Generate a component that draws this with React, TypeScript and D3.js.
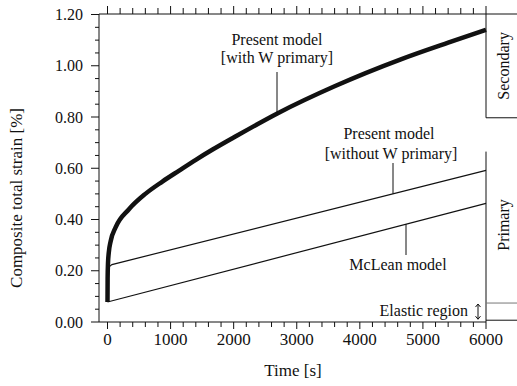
import React from "react";
import * as d3 from "d3";

const timeTicks = [0, 1000, 2000, 3000, 4000, 5000, 6000];
const strainTicks = [0, 0.2, 0.4, 0.6, 0.8, 1.0, 1.2];

const withWTime = [0, 2, 8, 20, 50, 130, 340, 600, 870, 1130, 1400, 1660, 2000, 2700, 3600, 4650, 5400, 6000];
const withWStrain = [0.078, 0.17, 0.23, 0.27, 0.315, 0.37, 0.44, 0.5, 0.548, 0.59, 0.633, 0.672, 0.72, 0.815, 0.92, 1.025, 1.09, 1.14];

const withoutWTime = [0, 30, 70, 6000];
const withoutWStrain = [0.205, 0.216, 0.224, 0.592];

const mcleanTime = [0, 6000];
const mcleanStrain = [0.078, 0.463];

// region boundaries on the right-hand bar (strain %)
const secondaryBounds = [0.797, 1.2];
const primaryBounds = [0.007, 0.665];
const elasticBounds = [0.007, 0.074];

const W = 517;
const H = 386;
const left = 99;
const right = 486;
const top = 14;
const bottom = 322;

const x = d3.scaleLinear().domain([0, 6000]).range([107.5, right]);
const y = d3.scaleLinear().domain([0, 1.2]).range([bottom, 14.5]);

const font = "Liberation Serif, Times New Roman, Times, serif";
const ink = "#111";

function interp(ts: number[], vs: number[], t: number) {
  for (let i = 0; i < ts.length - 1; i++) {
    if (t >= ts[i] && t <= ts[i + 1]) {
      const f = (t - ts[i]) / (ts[i + 1] - ts[i]);
      return vs[i] + f * (vs[i + 1] - vs[i]);
    }
  }
  return vs[vs.length - 1];
}

export default function App() {
  const curve = d3
    .line<[number, number]>()
    .x((d) => x(d[0]))
    .y((d) => y(d[1]))
    .curve(d3.curveMonotoneX);
  const straight = d3
    .line<[number, number]>()
    .x((d) => x(d[0]))
    .y((d) => y(d[1]));

  const withW = withWTime.map((t, i) => [t, withWStrain[i]] as [number, number]);
  const withoutW = withoutWTime.map((t, i) => [t, withoutWStrain[i]] as [number, number]);
  const mclean = mcleanTime.map((t, i) => [t, mcleanStrain[i]] as [number, number]);

  const minorX = d3.range(0, 6001, 200);
  const minorY = d3.range(0, 1.2001, 0.05);

  const leadWithX = 277;
  const leadWithoutX = 393;
  const leadMcX = 406;
  const yWith = y(interp(withWTime, withWStrain, x.invert(leadWithX)));
  const yWithout = y(interp(withoutWTime, withoutWStrain, x.invert(leadWithoutX)));
  const yMc = y(interp(mcleanTime, mcleanStrain, x.invert(leadMcX)));

  const txt = { fontFamily: font } as React.CSSProperties;

  return (
    <svg width={W} height={H} style={{ position: "absolute", left: 0, top: 0, background: "#fff" }}>
      <rect x={0} y={0} width={W} height={H} fill="#fff" />
      {/* frame */}
      <g stroke={ink} strokeWidth={1} fill="none">
        <line x1={left} y1={top} x2={left} y2={bottom} />
        <line x1={left} y1={bottom} x2={right} y2={bottom} />
        <line x1={left} y1={top} x2={W} y2={top} />
        <line x1={right} y1={top} x2={right} y2={y(secondaryBounds[0])} />
        <line x1={right} y1={y(primaryBounds[1])} x2={right} y2={bottom} />
        <line x1={right} y1={y(secondaryBounds[0])} x2={W} y2={y(secondaryBounds[0])} />
        <line x1={right} y1={y(elasticBounds[1])} x2={W} y2={y(elasticBounds[1])} stroke="#777" />
        <line x1={right} y1={y(elasticBounds[0])} x2={W} y2={y(elasticBounds[0])} />
      </g>
      {/* x ticks bottom & top, y ticks */}
      <g stroke={ink} strokeWidth={1}>
        {minorX.map((t) => {
          const major = t % 1000 === 0;
          return (
            <g key={t}>
              <line x1={x(t)} x2={x(t)} y1={bottom} y2={bottom + (major ? 7 : 5)} />
              <line x1={x(t)} x2={x(t)} y1={top} y2={top - (major ? 8 : 6)} />
            </g>
          );
        })}
        {minorY.map((v, i) => {
          const major = i % 4 === 0;
          return <line key={i} x1={left} x2={left - (major ? 8 : 4)} y1={y(v)} y2={y(v)} />;
        })}
      </g>
      {/* tick labels */}
      <g fill={ink} style={txt}>
        {timeTicks.map((t) => (
          <text key={t} x={x(t)} y={345} textAnchor="middle" fontSize={17} style={txt}>
            {t}
          </text>
        ))}
        {strainTicks.map((v) => (
          <text key={v} x={83} y={y(v)} dy="0.35em" textAnchor="end" fontSize={16} style={txt}>
            {v.toFixed(2)}
          </text>
        ))}
      </g>
      {/* axis titles */}
      <text x={293} y={376} textAnchor="middle" fontSize={17} fill={ink} style={txt}>
        Time [s]
      </text>
      <text
        transform={`translate(22,${(top + bottom) / 2 + 30}) rotate(-90)`}
        textAnchor="middle"
        fontSize={17}
        fill={ink}
        style={txt}
      >
        Composite total strain [%]
      </text>
      {/* curves */}
      <path d={curve(withW) || ""} fill="none" stroke={ink} strokeWidth={4.5} />
      <path d={straight(withoutW) || ""} fill="none" stroke={ink} strokeWidth={1.2} />
      <path d={straight(mclean) || ""} fill="none" stroke={ink} strokeWidth={1.2} />
      {/* annotations */}
      <g fontSize={16} fill={ink} textAnchor="middle" style={txt}>
        <text x={277} y={45} style={txt}>Present model</text>
        <text x={277} y={63} style={txt}>[with W primary]</text>
        <text x={389} y={139} style={txt}>Present model</text>
        <text x={391} y={159} style={txt}>[without W primary]</text>
        <text x={398} y={270} style={txt}>McLean model</text>
        <text x={468} y={316} textAnchor="end" style={txt}>Elastic region</text>
      </g>
      <g stroke={ink} strokeWidth={1}>
        <line x1={leadWithX} x2={leadWithX} y1={72} y2={yWith} />
        <line x1={leadWithoutX} x2={leadWithoutX} y1={163} y2={yWithout} />
        <line x1={leadMcX} x2={leadMcX} y1={yMc} y2={255} />
        <line x1={478} x2={478} y1={y(elasticBounds[1]) + 1} y2={y(elasticBounds[0]) - 1} />
        <path d={`M475.5,${y(elasticBounds[1]) + 4} L478,${y(elasticBounds[1]) + 1} L480.5,${y(elasticBounds[1]) + 4}`} fill="none" />
        <path d={`M475.5,${y(elasticBounds[0]) - 4} L478,${y(elasticBounds[0]) - 1} L480.5,${y(elasticBounds[0]) - 4}`} fill="none" />
      </g>
      {/* region labels */}
      <g fontSize={16} fill={ink} textAnchor="middle" style={txt}>
        <text transform={`translate(503,${(y(secondaryBounds[0]) + top) / 2}) rotate(-90)`} dy="0.35em" style={txt}>
          Secondary
        </text>
        <text transform={`translate(503,225) rotate(-90)`} dy="0.35em" style={txt}>
          Primary
        </text>
      </g>
    </svg>
  );
}
